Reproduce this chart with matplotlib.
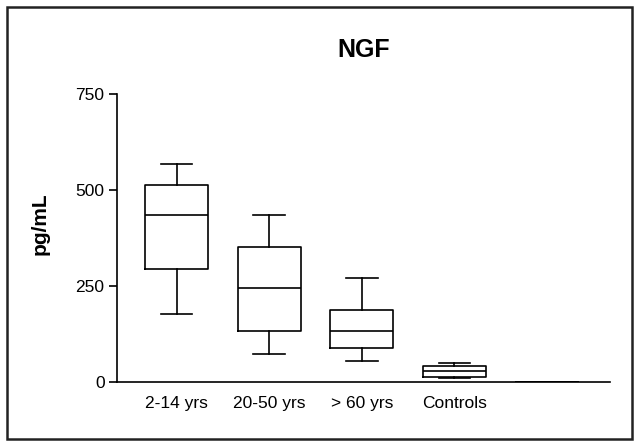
"""
NGF levels by age group, box-and-whisker plot.
"""

import matplotlib.pyplot as plt
from matplotlib.patches import Rectangle

plt.rcParams["font.family"] = ["Liberation Sans", "DejaVu Sans"]

# values (pg/mL)
groups = ["2-14 yrs", "20-50 yrs", "> 60 yrs", "Controls", ""]
whisker_low = [177, 71, 54, 9, 0]
q1 = [293, 133, 87, 11, 0]
median = [435, 245, 132, 27, 0]
q3 = [513, 350, 188, 41, 0]
whisker_high = [568, 435, 271, 49, 0]

yticks = [0, 250, 500, 750]


if __name__ == "__main__":
    fig = plt.figure(figsize=(6.37, 4.43), dpi=100)
    ax = fig.add_axes([0.1837, 0.1384, 0.7739, 0.6494])

    stats = []
    for i, name in enumerate(groups):
        stats.append({
            "label": name,
            "whislo": whisker_low[i],
            "q1": q1[i],
            "med": median[i],
            "q3": q3[i],
            "whishi": whisker_high[i],
            "fliers": [],
        })

    lw = 1.2
    ax.bxp(stats, positions=range(1, len(groups) + 1), widths=0.677,
           showfliers=False,
           boxprops=dict(color="black", linewidth=lw),
           medianprops=dict(color="black", linewidth=lw),
           whiskerprops=dict(color="black", linewidth=lw),
           capprops=dict(color="black", linewidth=lw),
           capwidths=0.34)

    ax.set_xlim(0.357, 5.68)
    ax.set_ylim(0, 750)
    ax.set_yticks(yticks)
    ax.set_yticklabels([str(v) for v in yticks])

    for side in ["top", "right"]:
        ax.spines[side].set_visible(False)
    ax.spines["left"].set_linewidth(lw)
    ax.spines["bottom"].set_linewidth(lw)
    ax.spines["left"].set_bounds(0, 750)

    ax.tick_params(axis="y", length=6, width=lw, pad=3, labelsize=12.5)
    ax.tick_params(axis="x", length=0, pad=10, labelsize=12.5)

    ax.set_ylabel("pg/mL", fontsize=15, fontweight="bold")
    ax.yaxis.set_label_coords(-0.137, 0.55)
    ax.set_title("NGF", fontsize=18, fontweight="bold", pad=27)

    # frame around the whole figure
    fig.patches.append(Rectangle((7 / 637, 4 / 443), 625 / 637, 432 / 443,
                                 transform=fig.transFigure, fill=False,
                                 edgecolor="#222222", linewidth=1.8))

    fig.savefig("out.png", dpi=100)
